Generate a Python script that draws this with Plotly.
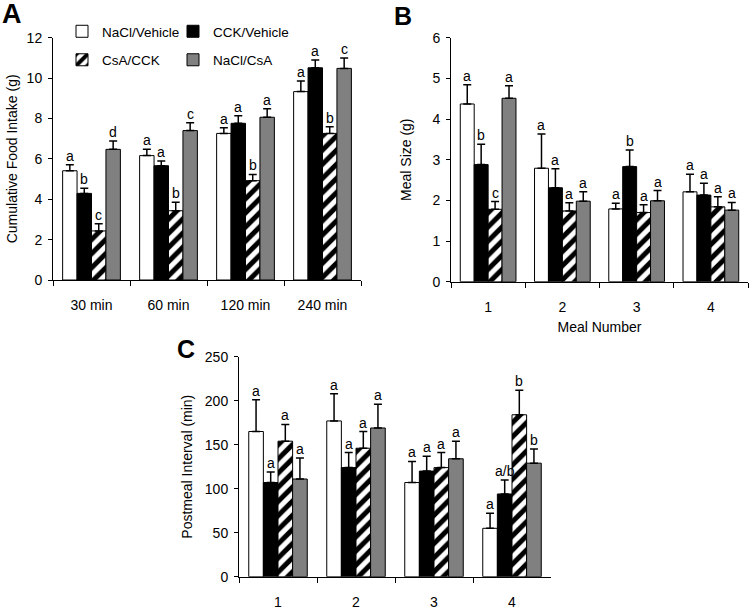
import plotly.graph_objects as go

FONT = "Liberation Sans, Arial, sans-serif"

series_names = ["NaCl/Vehicle", "CCK/Vehicle", "CsA/CCK", "NaCl/CsA"]

# Panel A: cumulative food intake (g)
a_categories = ["30 min", "60 min", "120 min", "240 min"]
a_nacl_vehicle = [5.41, 6.16, 7.26, 9.33]
a_nacl_vehicle_err = [0.30, 0.31, 0.28, 0.53]
a_cck_vehicle = [4.29, 5.66, 7.76, 10.51]
a_cck_vehicle_err = [0.25, 0.23, 0.38, 0.38]
a_csa_cck = [2.43, 3.43, 4.92, 7.26]
a_csa_cck_err = [0.35, 0.42, 0.31, 0.33]
a_nacl_csa = [6.47, 7.40, 8.06, 10.48]
a_nacl_csa_err = [0.41, 0.39, 0.42, 0.52]
a_letters = [["a", "a", "a", "a"], ["b", "a", "a", "a"], ["c", "b", "b", "b"], ["d", "c", "a", "c"]]

# Panel B: meal size (g)
b_categories = ["1", "2", "3", "4"]
b_nacl_vehicle = [4.37, 2.79, 1.79, 2.21]
b_nacl_vehicle_err = [0.47, 0.84, 0.14, 0.43]
b_cck_vehicle = [2.88, 2.31, 2.83, 2.13]
b_cck_vehicle_err = [0.50, 0.47, 0.41, 0.29]
b_csa_cck = [1.78, 1.74, 1.70, 1.84]
b_csa_cck_err = [0.19, 0.20, 0.19, 0.25]
b_nacl_csa = [4.51, 1.98, 1.99, 1.76]
b_nacl_csa_err = [0.31, 0.23, 0.25, 0.19]
b_letters = [["a", "a", "a", "a"], ["b", "a", "b", "a"], ["c", "a", "a", "a"], ["a", "a", "a", "a"]]

# Panel C: postmeal interval (min)
c_categories = ["1", "2", "3", "4"]
c_nacl_vehicle = [165, 177, 107, 55]
c_nacl_vehicle_err = [36, 31, 24, 17]
c_cck_vehicle = [107, 124, 120, 94]
c_cck_vehicle_err = [12, 17, 17, 16]
c_csa_cck = [154, 146, 124, 184]
c_csa_cck_err = [19, 19, 17, 28]
c_nacl_csa = [111, 169, 134, 129]
c_nacl_csa_err = [24, 27, 20, 16]
c_letters = [["a", "a", "a", "a"], ["a", "a", "a", "a/b"], ["a", "a", "a", "b"], ["a", "a", "a", "b"]]

W, H = 754, 609
BARGAP = 0.25
GRAY = "#808080"

styles = [
    dict(color="white", pattern=None),
    dict(color="black", pattern=None),
    dict(color="white", pattern=dict(shape="/", fgcolor="black", bgcolor="white", size=10, solidity=0.5)),
    dict(color=GRAY, pattern=None),
]

panels = [
    dict(cats=a_categories,
         vals=[a_nacl_vehicle, a_cck_vehicle, a_csa_cck, a_nacl_csa],
         errs=[a_nacl_vehicle_err, a_cck_vehicle_err, a_csa_cck_err, a_nacl_csa_err],
         letters=a_letters, xa="x", ya="y"),
    dict(cats=b_categories,
         vals=[b_nacl_vehicle, b_cck_vehicle, b_csa_cck, b_nacl_csa],
         errs=[b_nacl_vehicle_err, b_cck_vehicle_err, b_csa_cck_err, b_nacl_csa_err],
         letters=b_letters, xa="x2", ya="y2"),
    dict(cats=c_categories,
         vals=[c_nacl_vehicle, c_cck_vehicle, c_csa_cck, c_nacl_csa],
         errs=[c_nacl_vehicle_err, c_cck_vehicle_err, c_csa_cck_err, c_nacl_csa_err],
         letters=c_letters, xa="x3", ya="y3"),
]

legend_ids = ["legend", "legend2", "legend3", "legend4"]

fig = go.Figure()
annotations = []
bw = (1 - BARGAP) / 4

for pi, p in enumerate(panels):
    for si in range(4):
        st = styles[si]
        marker = dict(color=st["color"], line=dict(color="black", width=1))
        if st["pattern"]:
            marker["pattern"] = st["pattern"]
        fig.add_trace(go.Bar(
            x=p["cats"], y=p["vals"][si], name=series_names[si],
            marker=marker,
            error_y=dict(type="data", symmetric=False, array=p["errs"][si],
                         arrayminus=[0] * len(p["vals"][si]),
                         color="black", thickness=1.5, width=4),
            xaxis=p["xa"], yaxis=p["ya"],
            showlegend=(pi == 0), legend=legend_ids[si],
        ))
        for ci in range(len(p["cats"])):
            annotations.append(dict(
                x=ci + (si - 1.5) * bw,
                y=p["vals"][si][ci] + p["errs"][si][ci],
                xref=p["xa"], yref=p["ya"],
                text=p["letters"][si][ci], showarrow=False,
                yanchor="bottom", xanchor="center", yshift=-1,
                font=dict(family=FONT, size=14, color="black"),
            ))


def px_x(a, b):
    return [a / W, b / W]


def px_y(top, bottom):
    return [1 - bottom / H, 1 - top / H]


axis_common = dict(showline=True, linecolor="black", linewidth=1, ticks="outside",
                   tickcolor="black", showgrid=False, zeroline=False, automargin=False,
                   tickfont=dict(family=FONT, size=14, color="black"))

xcommon = dict(axis_common, type="category", tickson="boundaries", ticklen=5,
               ticklabelstandoff=12)
ycommon = dict(axis_common, ticklen=4, ticklabelstandoff=3)

title_font = dict(family=FONT, size=14, color="black")

legend_font = dict(family=FONT, size=13.5, color="black")
legend_pos = [(62, 31.5), (173, 31.5), (62, 60), (173, 60)]
legend_layout = {}
for lid, (lx, ly) in zip(legend_ids, legend_pos):
    legend_layout[lid] = dict(x=lx / W, y=1 - ly / H, xanchor="left", yanchor="middle",
                              bgcolor="rgba(0,0,0,0)", font=legend_font)

fig.update_layout(
    template="none",
    width=W, height=H,
    margin=dict(l=0, r=0, t=0, b=0, autoexpand=False),
    paper_bgcolor="white", plot_bgcolor="white",
    barmode="group", bargap=BARGAP, bargroupgap=0,
    font=dict(family=FONT, color="black"),
    xaxis=dict(xcommon, domain=px_x(53, 361), anchor="y"),
    yaxis=dict(ycommon, domain=px_y(37.7, 280), anchor="x", range=[0, 12], dtick=2,
               title=dict(text="Cumulative Food Intake (g)", font=title_font, standoff=5)),
    xaxis2=dict(xcommon, domain=px_x(451, 748), anchor="y2",
                title=dict(text="Meal Number", font=title_font, standoff=8)),
    yaxis2=dict(ycommon, domain=px_y(37.7, 281.7), anchor="x2", range=[0, 6], dtick=1,
                title=dict(text="Meal Size (g)", font=title_font, standoff=17)),
    xaxis3=dict(xcommon, domain=px_x(239, 551), anchor="y3"),
    yaxis3=dict(ycommon, domain=px_y(356.7, 576.7), anchor="x3", range=[0, 250], dtick=50,
                title=dict(text="Postmeal Interval (min)", font=title_font, standoff=8)),
    **legend_layout,
)

for letter, xp, yp, fs in [("A", 0, -3, 27), ("B", 392, 0, 25), ("C", 175, 333, 25)]:
    annotations.append(dict(text="<b>%s</b>" % letter, x=xp / W, y=1 - yp / H,
                            xref="paper", yref="paper", xanchor="left", yanchor="top",
                            showarrow=False, font=dict(family=FONT, size=fs, color="black")))

fig.update_layout(annotations=annotations)

fig.write_html("out.html",
               config={"displayModeBar": False},
               post_script="document.body.style.margin='0';document.body.style.overflow='hidden';")
